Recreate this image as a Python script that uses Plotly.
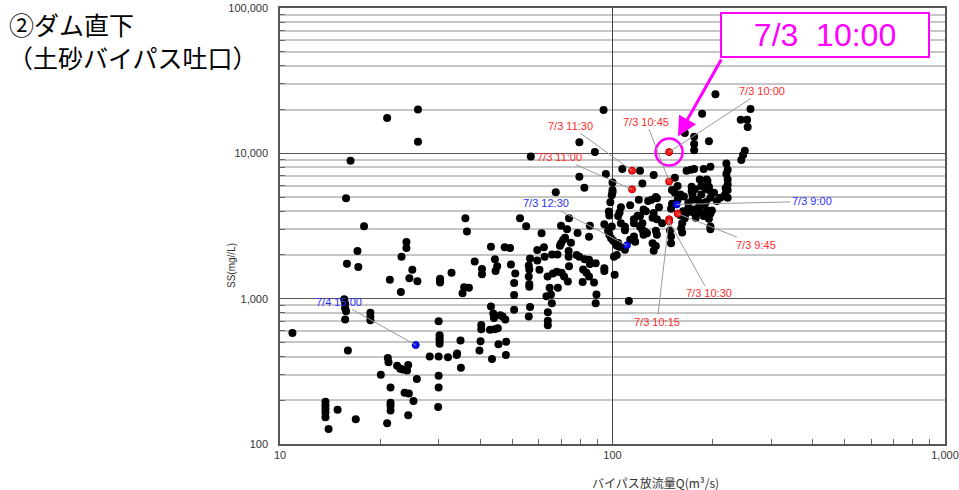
import numpy as np
import plotly.graph_objects as go

# ---------------- data ----------------
q_black = [
    26, 21, 26, 16.3, 15.8, 17.9, 17.1, 15.9, 17.2, 24,
    24, 23.2, 25, 21.4, 24.5, 25.9, 23.1, 30.3, 30.3, 30.3,
    32.8, 36.1, 36.5, 35.8, 35.4, 37, 15.6, 15.7, 15.7, 15.8,
    15.7, 10.9, 16, 18.7, 18.7, 18.7, 30, 30.2, 30.2, 30.2,
    30.2, 34.9, 28.2, 30, 32, 34, 34.1, 35, 21.1, 21.2,
    22.5, 23, 23.4, 24.1, 24.3, 20.1, 25.8, 30, 30, 21.5,
    23.7, 24.4, 25.2, 21.5, 21.5, 21.5, 13.7, 13.7, 13.7, 13.7,
    13.7, 14.9, 14, 16.9, 21, 24.3, 29.9,
    56.8, 79.5, 88.5, 79.5, 82.3, 67.5, 95.5, 100, 100, 100,
    99.5, 98.5, 97.5, 97.8, 94.5, 52.7, 55, 74, 70, 73,
    61.2, 78.5, 85.5, 85, 72, 71, 70, 69.5, 75, 97,
    97.8, 99, 100.5, 102, 103, 43.1, 47.4, 49.2, 59.4, 62.2,
    73.8, 73.8, 65.8, 68.3, 62.5, 56.5, 56, 56.2, 59.4, 44.3,
    38.5, 45, 49.5, 78, 79.5, 82.5, 85, 85.5, 89, 74,
    60.3, 40.5, 40.5, 44.5, 51, 56, 56.2, 56.2, 63.8, 66.2,
    68, 70.3, 71.5, 64.7, 68.5, 73.4, 81.6, 83.5, 85, 81.3,
    88, 94.5, 94.5, 101.5, 50.6, 50.6, 63.3, 65.3, 65.7, 89.5,
    89, 43.1, 43.8, 44, 46, 46.7, 47.6, 50.6, 56.5, 56,
    63.9, 63.9, 63.9, 40.3, 40.3, 42.8, 44.2, 45.2, 40.1, 45.4,
    47.9, 39.8, 43.4, 47.8, 112, 94,
    204, 260, 186, 243, 254, 255, 165, 176, 176, 176,
    195, 250, 247, 244, 107, 121, 133, 123, 154, 167,
    172, 176, 188, 197, 220, 222, 220, 222, 222, 222,
    218, 222, 183, 192, 195, 195, 191, 173, 173, 174,
    157, 154, 160, 164, 174, 180, 185, 191, 197, 206,
    211, 189, 182, 193, 197, 195, 160, 162, 161, 162,
    150, 150, 167, 165, 175, 197, 136, 131, 128, 126,
    124, 121, 138, 136, 133, 123, 121, 116, 116, 109,
    125, 124, 135, 136, 116, 113, 106, 105, 104, 99.5,
    105, 109, 135, 133, 103, 113, 120, 135, 132, 123,
    127, 106, 109, 104, 101, 132, 117, 141, 119, 151,
    157, 151, 150, 149, 163, 169, 169, 177, 185, 193,
    202, 219, 184, 195, 199, 184, 188, 175, 178, 197,
]
ss_black = [
    20000, 17500, 12000, 8900, 4900, 3150, 2130, 1740, 1650, 2450,
    2230, 1940, 1580, 1350, 1380, 1320, 1110, 1370, 1330, 1290,
    1510, 3580, 2900, 1200, 1090, 1190, 990, 920, 860, 820,
    720, 580, 440, 800, 750, 710, 700, 560, 535, 515,
    490, 515, 400, 400, 395, 410, 420, 335, 390, 365,
    345, 330, 325, 320, 350, 300, 280, 295, 245, 245,
    225, 223, 198, 192, 183, 170, 195, 185, 175, 165,
    153, 172, 127, 148, 139, 158, 180,
    9500, 11900, 10200, 6900, 5800, 5400, 7200, 6300, 5600, 5400,
    5150, 4600, 3980, 3730, 3250, 3580, 3150, 3580, 3170, 3000,
    2820, 2830, 3170, 2670, 2630, 2530, 2400, 2310, 2430, 2930,
    2750, 2600, 2500, 2430, 2310, 2280, 2260, 2230, 2160, 2260,
    2130, 1940, 2010, 2010, 1940, 1890, 1690, 1590, 1830, 1870,
    1800, 1670, 1720, 2000, 1940, 1870, 1850, 1730, 1750, 1670,
    1580, 1600, 1470, 1550, 1490, 1420, 1260, 1210, 1420, 1490,
    1530, 1510, 1420, 1190, 1190, 1310, 1590, 1510, 1420, 1300,
    1290, 1620, 1550, 1460, 1280, 1060, 1040, 1070, 930, 1070,
    930, 885, 790, 735, 770, 755, 720, 840, 875, 755,
    805, 705, 655, 660, 615, 610, 615, 625, 510, 485,
    505, 440, 385, 410, 965, 19900,
    25500, 20200, 18700, 17000, 17000, 15200, 13800, 13000, 11600, 10500,
    12100, 10400, 9750, 9000, 7800, 7600, 7100, 6200, 6800, 7600,
    7700, 7800, 7800, 8100, 8500, 7700, 7200, 6600, 6100, 5600,
    5200, 4950, 6600, 6600, 5900, 5600, 5700, 5900, 5500, 5200,
    5950, 5350, 5200, 5050, 4800, 4800, 5200, 4620, 4950, 4700,
    4950, 4400, 4300, 4050, 3850, 3550, 3750, 3300, 3050, 2850,
    2680, 2410, 3880, 3580, 4100, 3140, 4900, 4800, 4700, 4000,
    4100, 3700, 4250, 3520, 3880, 3300, 3130, 3520, 3300, 3130,
    2900, 2750, 2930, 2750, 2680, 2540, 4250, 3920, 3710, 3140,
    2270, 2170, 2300, 2140, 2000, 4400, 4800, 5000, 3600, 2970,
    2820, 3300, 2960, 2420, 1940, 2410, 2460, 3300, 3720, 5600,
    4800, 4500, 4150, 2950, 3990, 4550, 4200, 5650, 5950, 6450,
    5350, 5750, 4550, 3940, 4050, 3920, 3700, 3920, 3600, 3000,
]

red_labels = ["7/3 10:00", "7/3 11:30", "7/3 11:00", "7/3 10:45",
              "7/3 9:45", "7/3 10:15", "7/3 10:30"]
q_red = [148, 114.5, 114.5, 148, 157, 148, 148]
ss_red = [10200, 7600, 5650, 6400, 3850, 3520, 3400]

blue_labels = ["7/3 9:00", "7/3 12:30", "7/4 15:00"]
q_blue = [156, 110.5, 25.6]
ss_blue = [4450, 2330, 480]

x_tickvals = [10, 100, 1000]
x_ticktext = ["10", "100", "1,000"]
y_tickvals = [100, 1000, 10000, 100000]
y_ticktext = ["100", "1,000", "10,000", "100,000"]
minor_digits = [2, 3, 4, 5, 6, 7, 8, 9]
x_minor = [d * 10 for d in minor_digits] + [d * 100 for d in minor_digits]
y_minor = [d * 100 for d in minor_digits] + [d * 1000 for d in minor_digits] + [d * 10000 for d in minor_digits]

title_line1 = "②ダム直下"
title_line2 = "（土砂バイパス吐口）"
x_title = "バイパス放流量Q(m³/s)"
y_title = "SS(mg//L)"
highlight_text = "7/3  10:00"

# label offsets (pixels, layout only)
red_ax = [93, -62, -73, -23, 78, -12, 40]
red_ay = [-61, -45, -32, -60, 31, 103, 72]
blue_ax = [135, -81, -77]
blue_ay = [-3, -42, -43]

RED = "#ff2b2b"
BLUE = "#2f2fff"
MAGENTA = "#ff00ff"
LABEL_FONT = "Liberation Sans, Arial, sans-serif"
CJK_FONT = "Noto Sans CJK JP, sans-serif"

fig = go.Figure()
fig.add_trace(go.Scatter(x=q_black, y=ss_black, mode="markers",
                         marker=dict(size=8, color="black"), hoverinfo="skip"))
fig.add_trace(go.Scatter(x=q_red, y=ss_red, mode="markers",
                         marker=dict(size=7, color="#ff1a1a", line=dict(color="#b00000", width=1)),
                         hoverinfo="skip"))
fig.add_trace(go.Scatter(x=q_blue, y=ss_blue, mode="markers",
                         marker=dict(size=7, color="#1010ff", line=dict(color="#0000a0", width=1)),
                         hoverinfo="skip"))
# magenta ring around highlighted point
fig.add_trace(go.Scatter(x=[q_red[0]], y=[ss_red[0]], mode="markers",
                         marker=dict(size=27, symbol="circle-open", color=MAGENTA, line=dict(width=2.5)),
                         hoverinfo="skip"))

annotations = []
for txt, q, s, ax, ay in zip(red_labels, q_red, ss_red, red_ax, red_ay):
    annotations.append(dict(x=np.log10(q), y=np.log10(s), xref="x", yref="y", text=txt,
                            showarrow=True, arrowhead=0, arrowwidth=1, arrowcolor="#9a9a9a",
                            ax=ax, ay=ay, font=dict(family=LABEL_FONT, size=11, color=RED)))
for txt, q, s, ax, ay in zip(blue_labels, q_blue, ss_blue, blue_ax, blue_ay):
    annotations.append(dict(x=np.log10(q), y=np.log10(s), xref="x", yref="y", text=txt,
                            showarrow=True, arrowhead=0, arrowwidth=1, arrowcolor="#9a9a9a",
                            ax=ax, ay=ay, font=dict(family=LABEL_FONT, size=11, color=BLUE)))
# magenta arrow
annotations.append(dict(x=np.log10(q_red[0]), y=np.log10(ss_red[0]), xref="x", yref="y", text="",
                        showarrow=True, arrowhead=2, arrowsize=1.3, arrowwidth=3, arrowcolor=MAGENTA,
                        ax=53, ay=-94, standoff=18))
# magenta box
annotations.append(dict(x=0.8195, y=0.938, xref="paper", yref="paper", text=highlight_text,
                        showarrow=False, xanchor="center", yanchor="middle",
                        width=206, height=42, bordercolor=MAGENTA, borderwidth=2, borderpad=0,
                        bgcolor="white", font=dict(family=LABEL_FONT, size=32, color=MAGENTA)))
# titles
annotations.append(dict(x=-0.410, y=0.9633, xref="paper", yref="paper", text=title_line1,
                        showarrow=False, xanchor="left", yanchor="middle",
                        font=dict(family=CJK_FONT, size=25, color="black")))
annotations.append(dict(x=-0.412, y=0.8876, xref="paper", yref="paper", text=title_line2,
                        showarrow=False, xanchor="left", yanchor="middle",
                        font=dict(family=CJK_FONT, size=25, color="black")))
annotations.append(dict(x=0.5654, y=-0.0894, xref="paper", yref="paper", text=x_title,
                        showarrow=False, xanchor="center", yanchor="middle",
                        font=dict(family=CJK_FONT, size=12, color="#333")))
annotations.append(dict(x=-0.0722, y=0.4106, xref="paper", yref="paper", text=y_title,
                        showarrow=False, xanchor="center", yanchor="middle", textangle=-90,
                        font=dict(family=LABEL_FONT, size=10, color="#333")))

fig.update_layout(
    width=959, height=490,
    margin=dict(l=280, r=14, t=8, b=46, pad=0),
    paper_bgcolor="white", plot_bgcolor="white",
    showlegend=False,
    annotations=annotations,
    xaxis=dict(type="log", range=[1, 3], tickmode="array", tickvals=x_tickvals, ticktext=x_ticktext,
               automargin=False, ticklabeloverflow="allow",
               showgrid=True, gridcolor="#444", gridwidth=1,
               showline=True, linecolor="#555", linewidth=1.5, mirror=True,
               ticks="inside", ticklen=5, tickcolor="#555", zeroline=False,
               tickfont=dict(family=LABEL_FONT, size=11, color="#333"),
               minor=dict(tickmode="array", tickvals=x_minor, ticks="inside", ticklen=5,
                          tickcolor="#666", showgrid=False)),
    yaxis=dict(type="log", range=[2, 5], tickmode="array", tickvals=y_tickvals, ticktext=y_ticktext,
               automargin=False, ticklabeloverflow="allow",
               showgrid=True, gridcolor="#555", gridwidth=1,
               showline=True, linecolor="#555", linewidth=1.5, mirror=True,
               ticks="inside", ticklen=5, tickcolor="#555", zeroline=False,
               ticklabelstandoff=8,
               tickfont=dict(family=LABEL_FONT, size=11, color="#333"),
               minor=dict(tickmode="array", tickvals=y_minor, ticks="inside", ticklen=5,
                          tickcolor="#666", showgrid=True, gridcolor="#c6c6c6", gridwidth=1.5)),
)

# remove the default page margin so the 959x490 figure fills the window exactly
fig.write_html("out.html", config={"displayModeBar": False},
               post_script="document.body.style.margin='0';document.body.style.overflow='hidden';")
